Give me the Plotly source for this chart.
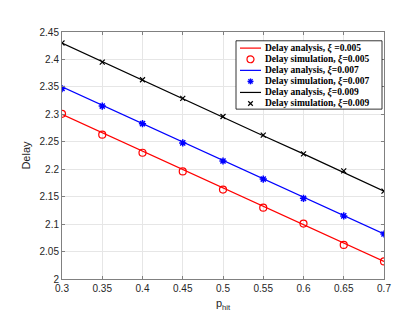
import plotly.graph_objects as go

p_hit = [0.3, 0.35, 0.4, 0.45, 0.5, 0.55, 0.6, 0.65, 0.7]

ana_005 = [2.300, 2.2665, 2.233, 2.1995, 2.166, 2.1325, 2.099, 2.0655, 2.032]
sim_005 = [2.301, 2.263, 2.230, 2.196, 2.163, 2.130, 2.101, 2.062, 2.032]
ana_007 = [2.350, 2.3165, 2.283, 2.2495, 2.216, 2.1825, 2.149, 2.1155, 2.082]
sim_007 = [2.347, 2.315, 2.283, 2.248, 2.215, 2.182, 2.147, 2.115, 2.082]
ana_009 = [2.430, 2.396, 2.363, 2.329, 2.295, 2.261, 2.228, 2.194, 2.160]
sim_009 = [2.430, 2.395, 2.363, 2.329, 2.296, 2.262, 2.228, 2.197, 2.160]

x_ticks = [0.3, 0.35, 0.4, 0.45, 0.5, 0.55, 0.6, 0.65, 0.7]
y_ticks = [2, 2.05, 2.1, 2.15, 2.2, 2.25, 2.3, 2.35, 2.4, 2.45]

legend_labels = [
    "<b>Delay analysis, <i>ξ</i> =0.005</b>",
    "<b>Delay simulation, <i>ξ</i>=0.005</b>",
    "<b>Delay analysis, <i>ξ</i>=0.007</b>",
    "<b>Delay simulation, <i>ξ</i>=0.007</b>",
    "<b>Delay analysis, <i>ξ</i>=0.009</b>",
    "<b>Delay simulation, <i>ξ</i>=0.009</b>",
]

RED, BLUE, BLACK = "#ff0000", "#0000ff", "#000000"
circle_m = dict(symbol="circle-open", color=RED, size=7, line=dict(width=1.2, color=RED))
star_m = dict(symbol="asterisk-open", color=BLUE, size=6, line=dict(width=1.5, color=BLUE))
x_m = dict(symbol="x-thin-open", color=BLACK, size=5, line=dict(width=1.2, color=BLACK))

fig = go.Figure()
fig.add_trace(go.Scatter(x=p_hit, y=ana_005, mode="lines", line=dict(color=RED, width=1.2)))
fig.add_trace(go.Scatter(x=p_hit, y=sim_005, mode="markers", marker=circle_m))
fig.add_trace(go.Scatter(x=p_hit, y=ana_007, mode="lines", line=dict(color=BLUE, width=1.2)))
fig.add_trace(go.Scatter(x=p_hit, y=sim_007, mode="markers", marker=star_m))
fig.add_trace(go.Scatter(x=p_hit, y=ana_009, mode="lines", line=dict(color=BLACK, width=1.2)))
fig.add_trace(go.Scatter(x=p_hit, y=sim_009, mode="markers", marker=x_m))

# ---- custom compact legend (plot-area fractions, drawn with shapes) ----
L, R, T, B = 54, 376, 24, 277
W, H = R - L, B - T
def px(x): return (x - L) / W
def py(y): return (B - y) / H

shapes = [dict(type="rect", xref="x domain", yref="y domain",
               x0=px(228), x1=px(374), y0=py(103), y1=py(33),
               line=dict(color="#000000", width=0.8), fillcolor="white", layer="above")]
annotations = []
row_y = [40.5, 52, 63.3, 74.6, 85.9, 97.2]
kinds = ["line", "circle", "line", "star", "line", "x"]
cols = [RED, RED, BLUE, BLUE, BLACK, BLACK]
cx = 242.5

def seg(x0, y0, x1, y1, c, w):
    return dict(type="line", xref="x domain", yref="y domain",
                x0=px(x0), x1=px(x1), y0=py(y0), y1=py(y1),
                line=dict(color=c, width=w), layer="above")

for k, c, lab, ry in zip(kinds, cols, legend_labels, row_y):
    if k == "line":
        shapes.append(seg(232, ry, 253, ry, c, 1.2))
    elif k == "circle":
        shapes.append(dict(type="circle", xref="x domain", yref="y domain",
                           x0=px(cx - 3.5), x1=px(cx + 3.5), y0=py(ry + 3.5), y1=py(ry - 3.5),
                           line=dict(color=c, width=1.2), layer="above"))
    elif k == "star":
        r = 3
        d = 2.1
        shapes += [seg(cx - r, ry, cx + r, ry, c, 1.4), seg(cx, ry - r, cx, ry + r, c, 1.4),
                   seg(cx - d, ry - d, cx + d, ry + d, c, 1.4), seg(cx - d, ry + d, cx + d, ry - d, c, 1.4)]
    else:
        d = 2.3
        shapes += [seg(cx - d, ry - d, cx + d, ry + d, c, 1.2), seg(cx - d, ry + d, cx + d, ry - d, c, 1.2)]
    annotations.append(dict(x=px(255), y=py(ry), xref="x domain", yref="y domain", text=lab,
                            showarrow=False, xanchor="left", yanchor="middle",
                            font=dict(family="Liberation Serif", size=9.5, color="#000000")))

axis_common = dict(
    showgrid=True, gridcolor="#e6e6e6", gridwidth=1,
    showline=True, linecolor="#808080", linewidth=1, mirror="ticks",
    ticks="inside", ticklen=3, tickcolor="#808080",
    tickfont=dict(family="Liberation Sans", size=10, color="#262626"),
    zeroline=False,
)

fig.update_layout(
    width=415, height=312,
    margin=dict(l=L, r=415 - R, t=T, b=312 - B),
    plot_bgcolor="white", paper_bgcolor="white",
    showlegend=False,
    xaxis=dict(range=[0.3, 0.7], tickvals=x_ticks, ticktext=[("%g" % v) for v in x_ticks],
               title=dict(text="p<sub>hit</sub>", font=dict(family="Liberation Sans", size=11, color="#262626"), standoff=6),
               **axis_common),
    yaxis=dict(range=[2, 2.45], tickvals=y_ticks, ticktext=[("%g" % v) for v in y_ticks],
               title=dict(text="Delay", font=dict(family="Liberation Sans", size=11, color="#262626"), standoff=6),
               **axis_common),
    shapes=shapes,
    annotations=annotations,
)

fig.write_html("out.html")
